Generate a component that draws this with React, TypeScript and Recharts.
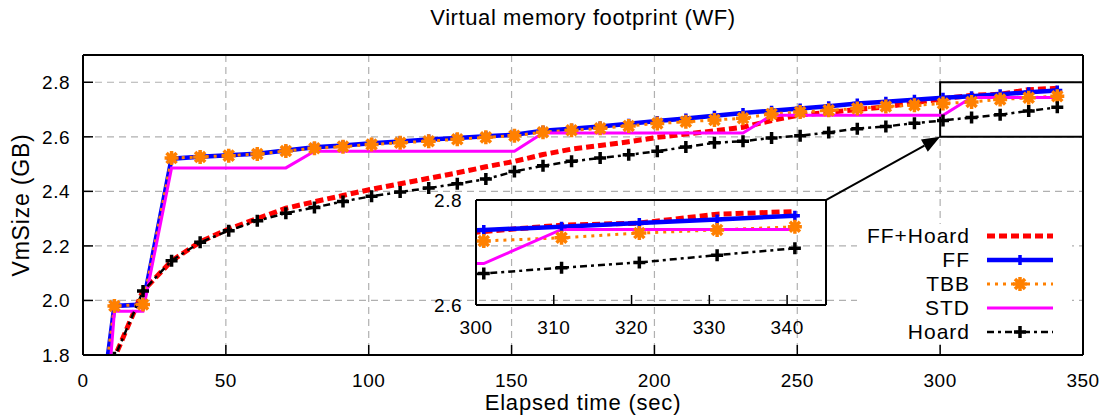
import React from 'react';
import {
  LineChart,
  Line,
  XAxis,
  YAxis,
  CartesianGrid,
  ReferenceArea,
  ReferenceLine,
  Legend,
} from 'recharts';

const FONT = '"Liberation Sans", Arial, Helvetica, sans-serif';

// sample times (sec)
const TIMES = [1, 11, 21, 31, 41, 51, 61, 71, 81, 91, 101, 111, 121, 131, 141, 151, 161, 171, 181, 191, 201, 211, 221, 231, 241, 251, 261, 271, 281, 291, 301, 311, 321, 331, 341];

// VmSize (GB) per allocator
const FF_HOARD = [0.5, 1.79, 2.035, 2.145, 2.215, 2.262, 2.3, 2.338, 2.362, 2.385, 2.408, 2.428, 2.448, 2.468, 2.49, 2.51, 2.535, 2.555, 2.568, 2.582, 2.598, 2.61, 2.622, 2.635, 2.66, 2.68, 2.69, 2.7, 2.71, 2.725, 2.74, 2.752, 2.756, 2.773, 2.778];
const FF = [1.18, 1.98, 1.985, 2.52, 2.527, 2.532, 2.538, 2.55, 2.562, 2.568, 2.576, 2.583, 2.59, 2.596, 2.602, 2.608, 2.622, 2.63, 2.638, 2.648, 2.658, 2.667, 2.677, 2.687, 2.696, 2.704, 2.712, 2.722, 2.729, 2.736, 2.743, 2.749, 2.756, 2.763, 2.77];
const TBB = [1.18, 1.98, 1.985, 2.522, 2.526, 2.531, 2.537, 2.548, 2.558, 2.564, 2.572, 2.578, 2.584, 2.591, 2.598, 2.604, 2.617, 2.624, 2.631, 2.64, 2.649, 2.655, 2.662, 2.668, 2.684, 2.691, 2.697, 2.704, 2.711, 2.716, 2.722, 2.728, 2.737, 2.743, 2.749];
const STD = [0.63, 1.96, 1.96, 2.486, 2.486, 2.486, 2.486, 2.486, 2.547, 2.547, 2.547, 2.547, 2.547, 2.547, 2.547, 2.547, 2.614, 2.614, 2.614, 2.614, 2.614, 2.614, 2.614, 2.614, 2.679, 2.679, 2.679, 2.679, 2.679, 2.679, 2.679, 2.744, 2.744, 2.744, 2.744];
const HOARD = [0.5, 1.79, 2.035, 2.146, 2.213, 2.256, 2.292, 2.32, 2.341, 2.363, 2.382, 2.398, 2.412, 2.428, 2.445, 2.473, 2.494, 2.51, 2.522, 2.534, 2.547, 2.563, 2.578, 2.584, 2.596, 2.604, 2.616, 2.63, 2.638, 2.65, 2.66, 2.671, 2.681, 2.695, 2.708];

const X_TICKS = [0, 50, 100, 150, 200, 250, 300, 350];
const Y_TICKS = [1.8, 2.0, 2.2, 2.4, 2.6, 2.8];
const INSET_X_TICKS = [300, 310, 320, 330, 340];
const INSET_Y_TICKS = [2.6, 2.8];

const data = TIMES.map((t, i) => ({
  t,
  ffHoard: FF_HOARD[i],
  ff: FF[i],
  tbb: TBB[i],
  std: STD[i],
  hoard: HOARD[i],
}));

type MarkerKind = 'none' | 'plus' | 'star';

const drawMarker = (kind: MarkerKind, cx: number, cy: number, color: string, arm: number, w: number, key?: any) => {
  if (kind === 'none') return <g key={key} />;
  let d = `M${cx - arm},${cy}H${cx + arm}M${cx},${cy - arm}V${cy + arm}`;
  if (kind === 'star') {
    const a = arm * 0.72;
    d += `M${cx - a},${cy - a}L${cx + a},${cy + a}M${cx - a},${cy + a}L${cx + a},${cy - a}`;
  }
  return <path key={key} d={d} stroke={color} strokeWidth={w} fill="none" />;
};

const SERIES = [
  { key: 'ffHoard', name: 'FF+Hoard', color: '#ff0000', width: 5, dash: '8 4', marker: 'none' as MarkerKind, arm: 0, mw: 0 },
  { key: 'ff', name: 'FF', color: '#0000ff', width: 4.5, dash: undefined, marker: 'plus' as MarkerKind, arm: 5, mw: 3.5 },
  { key: 'tbb', name: 'TBB', color: '#ff8000', width: 3, dash: '3 5', marker: 'star' as MarkerKind, arm: 7, mw: 3.5 },
  { key: 'std', name: 'STD', color: '#ff00ff', width: 3, dash: undefined, marker: 'none' as MarkerKind, arm: 0, mw: 0 },
  { key: 'hoard', name: 'Hoard', color: '#000000', width: 2.5, dash: '7 4 3 4', marker: 'plus' as MarkerKind, arm: 6, mw: 3.5 },
];

const dotFor = (s: (typeof SERIES)[number]) => {
  if (s.marker === 'none') return false;
  return (props: any) => {
    const { cx, cy, index } = props;
    if (cx == null || cy == null) return <g key={index} />;
    return drawMarker(s.marker, cx, cy, s.color, s.arm, s.mw, index);
  };
};

const renderLegend = () => (
  <div style={{ background: '#fff', width: 215, height: 120, position: 'relative', fontFamily: FONT, fontSize: 21, color: '#000' }}>
    {SERIES.map((s, i) => (
      <div key={s.key} style={{ position: 'absolute', left: 0, top: 24 * i, height: 24, width: 215, display: 'flex', alignItems: 'center' }}>
        <span style={{ width: 113, textAlign: 'right', lineHeight: '24px', whiteSpace: 'nowrap', letterSpacing: 1 }}>{s.name}</span>
        <svg width={70} height={24} style={{ marginLeft: 17, display: 'block' }}>
          <line x1={0} y1={12} x2={66} y2={12} stroke={s.color} strokeWidth={s.width} strokeDasharray={s.dash} />
          {drawMarker(s.marker, 33, 12, s.color, s.arm, s.mw)}
        </svg>
      </div>
    ))}
  </div>
);

const YLabel = (props: any) => {
  const vb = props.viewBox || { x: 0, y: 55, height: 300 };
  const cx = vb.x + 21;
  const cy = vb.y + vb.height / 2;
  return (
    <text x={cx} y={cy} transform={`rotate(-90 ${cx} ${cy})`} textAnchor="middle" dominantBaseline="central" fill="#000" fontSize={23} fontFamily={FONT} letterSpacing={0.8}>
      VmSize (GB)
    </text>
  );
};

const Arrow = (props: any) => {
  const { x1, y1, x2, y2 } = props;
  const ang = Math.atan2(y2 - y1, x2 - x1);
  const len = 18;
  const half = 7;
  const bx = x2 - len * Math.cos(ang);
  const by = y2 - len * Math.sin(ang);
  const px = -Math.sin(ang) * half;
  const py = Math.cos(ang) * half;
  return (
    <g>
      <line x1={x1} y1={y1} x2={bx} y2={by} stroke="#000" strokeWidth={2} />
      <polygon points={`${x2},${y2} ${bx + px},${by + py} ${bx - px},${by - py}`} fill="#000" />
    </g>
  );
};

const tickStyle = { fontSize: 19, fill: '#000', fontFamily: FONT, letterSpacing: 0.5 };
const frame = { stroke: '#000', strokeWidth: 2 };
const tickLine = { stroke: '#000', strokeWidth: 1.5 };

const renderLines = () =>
  SERIES.map((s) => (
    <Line
      key={s.key}
      type="linear"
      dataKey={s.key}
      name={s.name}
      stroke={s.color}
      strokeWidth={s.width}
      strokeDasharray={s.dash}
      dot={dotFor(s)}
      activeDot={false}
      isAnimationActive={false}
    />
  ));

export default function App() {
  return (
    <div style={{ position: 'absolute', left: 0, top: 0, width: 1105, height: 417, background: '#fff', overflow: 'hidden' }}>
      <div style={{ position: 'absolute', left: 83, top: 7, width: 1000, textAlign: 'center', fontFamily: FONT, fontSize: 22, lineHeight: '22px', color: '#000', letterSpacing: 0.6 }}>
        Virtual memory footprint (WF)
      </div>

      <div style={{ position: 'absolute', left: 0, top: 0 }}>
        <LineChart width={1105} height={417} data={data} margin={{ top: 54, right: 21, bottom: 0, left: 0 }}>
          <CartesianGrid stroke="#b0b0b0" strokeWidth={1.2} strokeDasharray="7 5" />
          <ReferenceArea x1={300} x2={350} y1={2.6} y2={2.8} fill="none" fillOpacity={0} stroke="#000" strokeWidth={2} />
          <XAxis
            dataKey="t"
            type="number"
            domain={[0, 350]}
            ticks={X_TICKS}
            interval={0}
            allowDataOverflow
            height={62}
            tickSize={-10}
            tickMargin={29}
            tick={tickStyle}
            tickLine={tickLine}
            axisLine={frame}
            label={{ value: 'Elapsed time (sec)', position: 'insideBottom', offset: 7, fill: '#000', fontSize: 22, fontFamily: FONT, letterSpacing: 0.8 }}
          />
          <XAxis
            xAxisId="top"
            orientation="top"
            dataKey="t"
            type="number"
            domain={[0, 350]}
            ticks={X_TICKS}
            interval={0}
            allowDataOverflow
            height={1}
            tickSize={-10}
            tick={false}
            tickLine={tickLine}
            axisLine={frame}
          />
          <YAxis
            type="number"
            domain={[1.8, 2.9]}
            ticks={Y_TICKS}
            interval={0}
            allowDataOverflow
            width={83}
            tickSize={-10}
            tickMargin={23}
            tick={tickStyle}
            tickLine={tickLine}
            axisLine={frame}
            tickFormatter={(v: number) => v.toFixed(1)}
            label={<YLabel />}
          />
          <YAxis
            yAxisId="right"
            orientation="right"
            type="number"
            domain={[1.8, 2.9]}
            ticks={Y_TICKS}
            interval={0}
            allowDataOverflow
            width={1}
            tickSize={-10}
            tick={false}
            tickLine={tickLine}
            axisLine={frame}
          />
          {renderLines()}
          <ReferenceLine segment={[{ x: 260, y: 2.368 }, { x: 300, y: 2.6 }]} shape={<Arrow />} />
          <Legend
            layout="vertical"
            align="center"
            verticalAlign="middle"
            width={215}
            height={120}
            content={renderLegend}
            wrapperStyle={{ left: 857, top: 224, width: 215, height: 120 }}
          />
        </LineChart>
      </div>

      <div style={{ position: 'absolute', left: 420, top: 190 }}>
        <LineChart width={420} height={150} data={data} margin={{ top: 9, right: 13, bottom: 0, left: 0 }}>
          <XAxis
            dataKey="t"
            type="number"
            domain={[300, 345]}
            ticks={INSET_X_TICKS}
            interval={0}
            allowDataOverflow
            height={35}
            tickSize={-10}
            tickMargin={26}
            tick={tickStyle}
            tickLine={tickLine}
            axisLine={frame}
          />
          <XAxis
            xAxisId="top"
            orientation="top"
            dataKey="t"
            type="number"
            domain={[300, 345]}
            ticks={INSET_X_TICKS}
            interval={0}
            allowDataOverflow
            height={1}
            tickSize={-10}
            tick={false}
            tickLine={tickLine}
            axisLine={frame}
          />
          <YAxis
            type="number"
            domain={[2.6, 2.8]}
            ticks={INSET_Y_TICKS}
            interval={0}
            allowDataOverflow
            width={56}
            tickSize={-10}
            tickMargin={24}
            tick={tickStyle}
            tickLine={tickLine}
            axisLine={frame}
            tickFormatter={(v: number) => v.toFixed(1)}
          />
          <YAxis
            yAxisId="right"
            orientation="right"
            type="number"
            domain={[2.6, 2.8]}
            ticks={INSET_Y_TICKS}
            interval={0}
            allowDataOverflow
            width={1}
            tickSize={-10}
            tick={false}
            tickLine={tickLine}
            axisLine={frame}
          />
          {renderLines()}
        </LineChart>
      </div>
    </div>
  );
}
